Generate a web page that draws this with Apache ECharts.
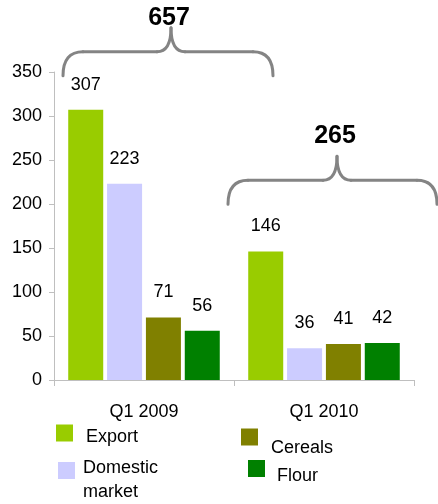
<!DOCTYPE html>
<html>
<head>
<meta charset="utf-8">
<script src="https://cdn.jsdelivr.net/npm/echarts@6/dist/echarts.min.js"></script>
<style>
  html, body { margin: 0; padding: 0; background: #fff; }
  #chart { width: 438px; height: 504px; }
</style>
</head>
<body>
<div id="chart"></div>
<script>
// data
const categories = ['Q1 2009', 'Q1 2010']
const exportValues = [307, 146]
const domesticValues = [223, 36]
const cerealsValues = [71, 41]
const flourValues = [56, 42]
const yTicks = [0, 350, 50] // min, max, interval

// brace level (value of the horizontal arm) per category
const braceLevels = [373, 227]
const totals = categories.map((c, i) => exportValues[i] + domesticValues[i] + cerealsValues[i] + flourValues[i])

const FONT = '"Liberation Sans", Arial, sans-serif'
const colors = ['#99CC00', '#CCCCFF', '#808000', '#008000']

// brace shape offsets from category centre: left end, right end, peak
const braceSpans = [[-81, 129, 27], [-96, 113, 13]]
const labelLift = [10, 20]

const chart = echarts.init(document.getElementById('chart'))

const barLabel = {
  show: true,
  position: 'top',
  distance: 16,
  color: '#000',
  fontSize: 18,
  fontFamily: FONT,
}

const mkBar = (name, data, color) => ({
  name,
  type: 'bar',
  data,
  barWidth: 35,
  barGap: '11%',
  itemStyle: { color },
  label: barLabel,
  animation: false,
})

// 花括号 + 合计
const renderBrace = (params, api) => {
  const i = params.dataIndex
  const p = api.coord([api.value(0), api.value(1)])
  const cx = p[0]
  const yh = p[1]
  const [l, r, pk] = braceSpans[i]
  const xl = cx + l
  const xr = cx + r
  const xp = cx + pk
  const yb = yh + 24
  const yp = yh - 24
  const rc = 20
  const rp = 14
  const style = { stroke: '#848484', lineWidth: 3, fill: null, lineCap: 'round' }
  return {
    type: 'group',
    children: [
      { type: 'bezierCurve', shape: { x1: xl, y1: yb, cpx1: xl, cpy1: yh, x2: xl + rc, y2: yh }, style },
      { type: 'line', shape: { x1: xl + rc, y1: yh, x2: xp - rp, y2: yh }, style },
      { type: 'bezierCurve', shape: { x1: xp - rp, y1: yh, cpx1: xp, cpy1: yh, x2: xp, y2: yp }, style },
      { type: 'bezierCurve', shape: { x1: xp, y1: yp, cpx1: xp, cpy1: yh, x2: xp + rp, y2: yh }, style },
      { type: 'line', shape: { x1: xp + rp, y1: yh, x2: xr - rc, y2: yh }, style },
      { type: 'bezierCurve', shape: { x1: xr - rc, y1: yh, cpx1: xr, cpy1: yh, x2: xr, y2: yb }, style },
      {
        type: 'text',
        style: {
          text: String(totals[i]),
          x: xp - 2,
          y: yp - labelLift[i],
          align: 'center',
          verticalAlign: 'middle',
          fontSize: 25,
          fontWeight: 'bold',
          fontFamily: FONT,
          fill: '#000',
        },
      },
    ],
  }
}

// legend text: a spacer line on top pushes the text down next to the icon
const legendText = (spacer, lineHeight, padLeft) => ({
  fontFamily: FONT,
  color: '#000',
  padding: [0, 0, 0, padLeft],
  rich: {
    s: { lineHeight: spacer, fontSize: 6 },
    t: { fontSize: 18, lineHeight, fontFamily: FONT, color: '#000' },
  },
})

const legendBase = {
  orient: 'vertical',
  padding: 0,
  itemWidth: 17,
  itemHeight: 17,
  icon: 'rect',
  selectedMode: false,
}

const option = {
  backgroundColor: '#fff',
  animation: false,
  grid: { left: 54, right: 24, top: 72, bottom: 124 },
  legend: [
    { ...legendBase, data: ['Export'], left: 56, top: 420,
      formatter: () => '{s| }\n{t|Export}',
      textStyle: legendText(9, 20, 8) },
    { ...legendBase, data: ['Domestic market'], left: 58, top: 443.5,
      formatter: () => '{s| }\n{t|Domestic}\n{t|market}',
      textStyle: legendText(20, 24, 3) },
    { ...legendBase, data: ['Cereals'], left: 241, top: 424,
      formatter: () => '{s| }\n{t|Cereals}',
      textStyle: legendText(22, 20, 8) },
    { ...legendBase, data: ['Flour'], left: 248, top: 455.5,
      formatter: () => '{s| }\n{t|Flour}',
      textStyle: legendText(15, 20, 7) },
  ],
  xAxis: {
    type: 'category',
    data: categories,
    axisLine: { lineStyle: { color: '#bfbfbf', width: 1 } },
    axisTick: { show: true, length: 6, lineStyle: { color: '#bfbfbf' } },
    axisLabel: { margin: 23, fontSize: 18, fontFamily: FONT, color: '#000' },
  },
  yAxis: {
    type: 'value',
    min: yTicks[0],
    max: yTicks[1],
    interval: yTicks[2],
    splitLine: { show: false },
    axisLine: { show: true, lineStyle: { color: '#bfbfbf', width: 1 } },
    axisTick: { show: true, length: 5, lineStyle: { color: '#bfbfbf' } },
    axisLabel: { margin: 12, fontSize: 18, fontFamily: FONT, color: '#000' },
  },
  series: [
    mkBar('Export', exportValues, colors[0]),
    mkBar('Domestic market', domesticValues, colors[1]),
    mkBar('Cereals', cerealsValues, colors[2]),
    mkBar('Flour', flourValues, colors[3]),
    {
      type: 'custom',
      name: 'totals',
      silent: true,
      clip: false,
      renderItem: renderBrace,
      data: braceLevels.map((v, i) => [i, v]),
      z: 5,
    },
  ],
}

chart.setOption(option)
</script>
</body>
</html>
